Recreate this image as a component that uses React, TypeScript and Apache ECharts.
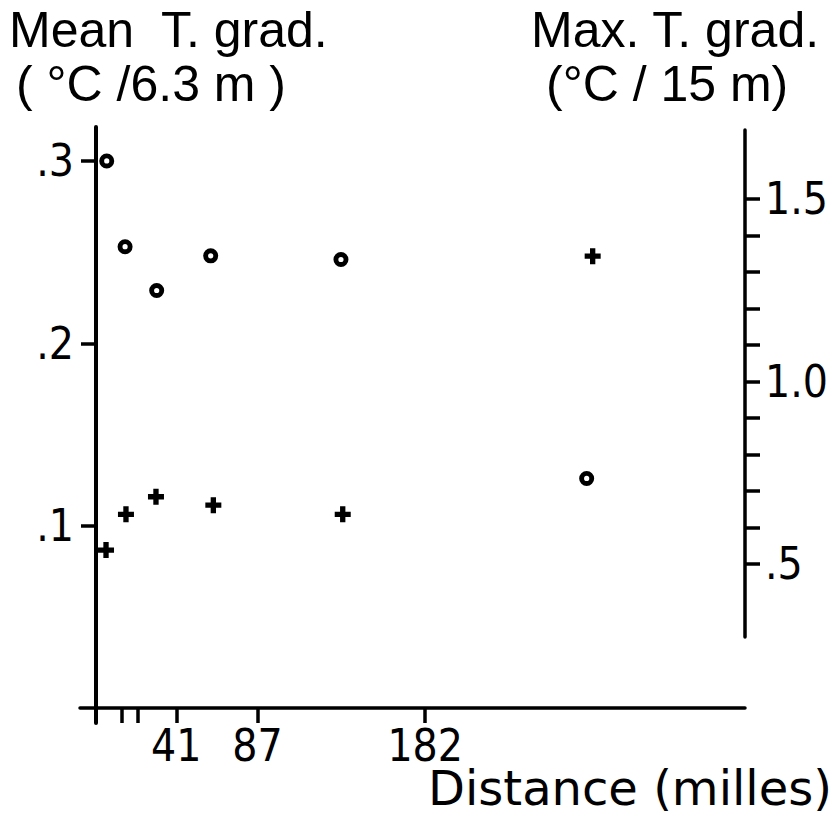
import React, { useEffect, useRef } from "react";
import * as echarts from "echarts";

// Mean T. grad. (circles, left axis) : distance in miles, value in °C / 6.3 m
const meanDistance = [1.6, 12.0, 29.9, 60.5, 134.3, 273.5];
const meanGrad = [0.3, 0.253, 0.229, 0.248, 0.246, 0.126];

// Max. T. grad. (crosses, right axis) : distance in miles, value in °C / 15 m
const maxDistance = [1.2, 12.5, 29.5, 62.0, 135.3, 276.9];
const maxGrad = [0.538, 0.636, 0.684, 0.661, 0.636, 1.343];

// Axis ticks and labels
const xTickValues = [10, 19, 41, 87, 182];
const xLabelValues = [41, 87, 182];
const xLabelTexts = ["41", "87", "182"];

const leftTickValues = [0.1, 0.2, 0.3];
const leftLabelTexts = [".1", ".2", ".3"];

const rightTickValues = [0.5, 0.6, 0.7, 0.8, 0.9, 1.0, 1.1, 1.2, 1.3, 1.4, 1.5];
const rightLabelValues = [0.5, 1.0, 1.5];
const rightLabelTexts = [".5", "1.0", "1.5"];

const FONT = "'Liberation Sans', Arial, sans-serif";
const WIDE_FONT = "'DejaVu Sans', 'Liberation Sans', sans-serif";
const NUM_FONT = "'Liberation Sans Narrow', 'DejaVu Sans Condensed', 'Liberation Sans', Arial, sans-serif";

const PLUS = "path://M4,0 H8 V4 H12 V8 H8 V12 H4 V8 H0 V4 H4 Z";
const RING =
  "path://M0,-7.5 A7.5,7.5 0 1,1 0,7.5 A7.5,7.5 0 1,1 0,-7.5 Z M0,-2.6 A2.6,2.6 0 1,0 0,2.6 A2.6,2.6 0 1,0 0,-2.6 Z";

function lookup(values: number[], texts: string[], v: number): string {
  const i = values.findIndex((x) => Math.abs(x - v) < 1e-9);
  return i >= 0 ? texts[i] : "";
}

export default function App() {
  const ref = useRef<HTMLDivElement>(null);

  useEffect(() => {
    if (!ref.current) return;
    const chart = echarts.init(ref.current, null, { renderer: "svg" });

    const axisLineStyle = { color: "#000", width: 3.5 };
    const labelBase = { color: "#000", fontSize: 44, fontFamily: NUM_FONT };

    chart.setOption({
      animation: false,
      backgroundColor: "#fff",
      grid: [
        { left: 80, right: 87, top: 127, bottom: 101 },
        { left: 80, right: 87, top: 130, bottom: 187 },
      ],
      xAxis: [
        {
          type: "value",
          gridIndex: 0,
          min: -13.54,
          max: 363.2,
          offset: -15,
          axisLine: { show: true, onZero: false, lineStyle: axisLineStyle },
          axisTick: {
            show: true,
            length: 15,
            lineStyle: axisLineStyle,
            customValues: xTickValues,
          },
          axisLabel: {
            ...labelBase,
            margin: 20,
            lineHeight: 34,
            customValues: xLabelValues,
            formatter: (v: number) => lookup(xLabelValues, xLabelTexts, v),
          },
          splitLine: { show: false },
        },
        {
          type: "value",
          gridIndex: 1,
          min: -13.54,
          max: 363.2,
          show: false,
        },
      ],
      yAxis: [
        {
          type: "value",
          gridIndex: 0,
          position: "left",
          offset: -16,
          min: -0.008,
          max: 0.3186,
          axisLine: { show: true, onZero: false, lineStyle: { color: "#000", width: 4 } },
          axisTick: {
            show: true,
            length: 15,
            lineStyle: axisLineStyle,
            customValues: leftTickValues,
          },
          axisLabel: {
            ...labelBase,
            margin: 22,
            customValues: leftTickValues,
            formatter: (v: number) => lookup(leftTickValues, leftLabelTexts, v),
          },
          splitLine: { show: false },
        },
        {
          type: "value",
          gridIndex: 1,
          position: "right",
          min: 0.3,
          max: 1.6885,
          axisLine: { show: true, onZero: false, lineStyle: axisLineStyle },
          axisTick: {
            show: true,
            length: 15,
            lineStyle: axisLineStyle,
            customValues: rightTickValues,
          },
          axisLabel: {
            ...labelBase,
            margin: 20,
            customValues: rightLabelValues,
            formatter: (v: number) => lookup(rightLabelValues, rightLabelTexts, v),
          },
          splitLine: { show: false },
        },
      ],
      series: [
        {
          name: "Mean T. grad.",
          type: "scatter",
          xAxisIndex: 0,
          yAxisIndex: 0,
          data: meanDistance.map((d, i) => [d, meanGrad[i]]),
          symbol: RING,
          symbolSize: 15,
          itemStyle: { color: "#000", opacity: 1 },
          clip: false,
        },
        {
          name: "Max. T. grad.",
          type: "scatter",
          xAxisIndex: 1,
          yAxisIndex: 1,
          data: maxDistance.map((d, i) => [d, maxGrad[i]]),
          symbol: PLUS,
          symbolSize: 16,
          itemStyle: { color: "#000", opacity: 1 },
          clip: false,
        },
      ],
      graphic: [
        {
          type: "text",
          left: 9,
          top: 5,
          style: { text: "Mean  T. grad.", fontSize: 50, fontFamily: FONT, fill: "#000" },
        },
        {
          type: "text",
          left: 16,
          top: 59,
          style: { text: "( °C /6.3 m )", fontSize: 50, fontFamily: FONT, fill: "#000" },
        },
        {
          type: "text",
          left: 531,
          top: 5,
          style: { text: "Max. T. grad.", fontSize: 50, fontFamily: FONT, fill: "#000" },
        },
        {
          type: "text",
          left: 546,
          top: 59,
          style: { text: "(°C / 15 m)", fontSize: 50, fontFamily: FONT, fill: "#000" },
        },
        {
          type: "text",
          left: 428,
          top: 764,
          style: {
            text: "Distance (milles)",
            fontSize: 48,
            lineHeight: 40,
            fontFamily: WIDE_FONT,
            fill: "#000",
          },
        },
      ],
    });

    return () => chart.dispose();
  }, []);

  return (
    <div
      ref={ref}
      style={{ position: "fixed", left: 0, top: 0, width: 832, height: 824, background: "#fff" }}
    />
  );
}
